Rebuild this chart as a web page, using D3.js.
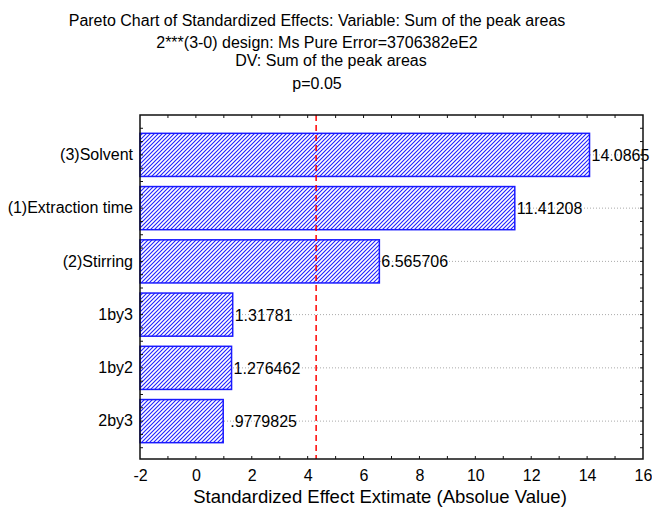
<!DOCTYPE html>
<html>
<head>
<meta charset="utf-8">
<script src="https://cdn.jsdelivr.net/npm/d3@7"></script>
<style>
  body { margin: 0; background: #fff; }
  svg { font-family: "Liberation Sans", Arial, sans-serif; }
</style>
</head>
<body>
<svg width="652" height="507"></svg>
<script>
// values
var categories = ["(3)Solvent", "(1)Extraction time", "(2)Stirring", "1by3", "1by2", "2by3"];
var effects = [14.0865, 11.41208, 6.565706, 1.31781, 1.276462, 0.9779825];
var effectLabels = ["14.0865", "11.41208", "6.565706", "1.31781", "1.276462", ".9779825"];
var xTicks = [-2, 0, 2, 4, 6, 8, 10, 12, 14, 16];
var critical = 4.303; // p=0.05
var titleLines = [
  "Pareto Chart of Standardized Effects: Variable: Sum of the peak areas",
  "2***(3-0) design: Ms Pure Error=3706382eE2",
  "DV: Sum of the peak areas",
  "p=0.05"
];
var xTitle = "Standardized Effect Extimate (Absolue Value)";

var svg = d3.select('svg');
// note: don't call it "top", window.top is read only
var pLeft = 140, pRight = 643, pTop = 115, pBottom = 459;

var x = d3.scaleLinear().domain([-2, 16]).range([pLeft, pRight]);
var y = d3.scaleBand().domain(categories).range([128, 448])
  .paddingInner(0.19).paddingOuter(0.1);

// hatch fill - blue lines on white
var defs = svg.append('defs');
var pat = defs.append('pattern')
  .attr('id', 'hatch')
  .attr('patternUnits', 'userSpaceOnUse')
  .attr('width', 4).attr('height', 4);
pat.append('rect').attr('width', 4).attr('height', 4).style('fill', '#ffffff');
pat.append('path')
  .attr('d', 'M-1,1 L1,-1 M0,4 L4,0 M3,5 L5,3')
  .style('stroke', '#1f1fff')
  .style('stroke-width', 1.1)
  .style('fill', 'none');

// titles
var titleY = [26, 47.5, 66, 89];
var titleX = [317, 317, 331, 317];
svg.selectAll('text.title')
  .data(titleLines)
  .enter()
  .append('text')
  .attr('class', 'title')
  .attr('x', function(d, i) { return titleX[i]; })
  .attr('y', function(d, i) { return titleY[i]; })
  .attr('text-anchor', 'middle')
  .attr('font-size', 16)
  .text(function(d) { return d; });

// dotted gridlines at bar centers
svg.selectAll('line.grid')
  .data(categories)
  .enter()
  .append('line')
  .attr('class', 'grid')
  .attr('x1', pLeft).attr('x2', pRight)
  .attr('y1', function(d) { return y(d) + y.bandwidth() / 2; })
  .attr('y2', function(d) { return y(d) + y.bandwidth() / 2; })
  .attr('stroke', '#aaa')
  .attr('stroke-width', 1)
  .attr('stroke-dasharray', '1,2');

// bars
svg.selectAll('rect.bar')
  .data(effects)
  .enter()
  .append('rect')
  .attr('class', 'bar')
  .attr('x', x(-2))
  .attr('y', function(d, i) { return y(categories[i]); })
  .attr('width', function(d) { return x(d) - x(-2); })
  .attr('height', y.bandwidth())
  .style('fill', 'url(#hatch)')
  .attr('stroke', '#1a1aff')
  .attr('stroke-width', 1.5);

// value labels
svg.selectAll('text.val')
  .data(effects)
  .enter()
  .append('text')
  .attr('class', 'val')
  .attr('x', function(d, i) { return x(d) + (i == 5 ? 7 : 2); })
  .attr('y', function(d, i) { return y(categories[i]) + y.bandwidth() / 2 + 6; })
  .attr('font-size', 16)
  .text(function(d, i) { return effectLabels[i]; });

// critical value line
svg.append('line')
  .attr('x1', x(critical)).attr('x2', x(critical))
  .attr('y1', pTop).attr('y2', pBottom)
  .attr('stroke', '#ff0000')
  .attr('stroke-width', 1.5)
  .attr('stroke-dasharray', '6,4');

// frame
svg.append('rect')
  .attr('x', pLeft).attr('y', pTop)
  .attr('width', pRight - pLeft).attr('height', pBottom - pTop)
  .attr('fill', 'none')
  .attr('stroke', '#111')
  .attr('stroke-width', 1.5);

// x axis: labels below, minor ticks inside top and bottom
var xAxis = d3.axisBottom(x).tickValues(xTicks).tickSize(0).tickPadding(11)
  .tickFormat(function(d) { return String(d); });
var gx = svg.append('g').attr('transform', 'translate(0,' + pBottom + ')').call(xAxis);
gx.select('.domain').remove();
gx.selectAll('text').attr('font-size', 16).attr('font-family', '"Liberation Sans", Arial, sans-serif')
  .attr('fill', '#000');

var unitTicks = d3.range(-1, 16, 1);
svg.selectAll('line.tb')
  .data(unitTicks)
  .enter()
  .append('line')
  .attr('class', 'tb')
  .attr('x1', function(d) { return x(d); })
  .attr('x2', function(d) { return x(d); })
  .attr('y1', pBottom).attr('y2', pBottom - 3)
  .attr('stroke', '#111');
svg.selectAll('line.tt')
  .data(unitTicks)
  .enter()
  .append('line')
  .attr('class', 'tt')
  .attr('x1', function(d) { return x(d); })
  .attr('x2', function(d) { return x(d); })
  .attr('y1', pTop).attr('y2', pTop + 3)
  .attr('stroke', '#111');

// y axis category labels
var yAxis = d3.axisLeft(y).tickSize(0).tickPadding(7);
var gy = svg.append('g').attr('transform', 'translate(' + pLeft + ',0)').call(yAxis);
gy.select('.domain').remove();
gy.selectAll('text').attr('font-size', 16).attr('font-family', '"Liberation Sans", Arial, sans-serif')
  .attr('fill', '#000');

// quarter-step ticks on left and right sides
var qTicks = [];
categories.forEach(function(c) {
  for (var k = 0; k < 4; k++) qTicks.push(y(c) - y.step() * y.paddingInner() / 2 + k * y.step() / 4);
});
qTicks.push(y(categories[5]) + y.bandwidth() + y.step() * y.paddingInner() / 2);
svg.selectAll('line.tl')
  .data(qTicks)
  .enter()
  .append('line')
  .attr('class', 'tl')
  .attr('x1', pLeft).attr('x2', pLeft + 3)
  .attr('y1', function(d) { return d; }).attr('y2', function(d) { return d; })
  .attr('stroke', '#111');
svg.selectAll('line.tr')
  .data(qTicks)
  .enter()
  .append('line')
  .attr('class', 'tr')
  .attr('x1', pRight).attr('x2', pRight - 3)
  .attr('y1', function(d) { return d; }).attr('y2', function(d) { return d; })
  .attr('stroke', '#111');

// axis title
svg.append('text')
  .attr('x', 380).attr('y', 503)
  .attr('text-anchor', 'middle')
  .attr('font-size', 18.5)
  .text(xTitle);
</script>
</body>
</html>
